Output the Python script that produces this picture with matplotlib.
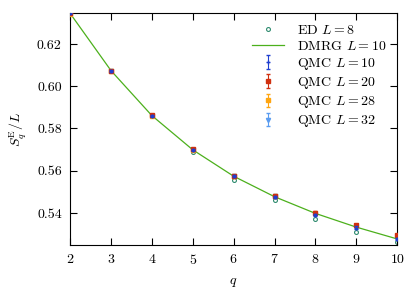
import numpy as np
import matplotlib
matplotlib.use("Agg")
import matplotlib.pyplot as plt

plt.rcParams['font.family'] = 'serif'
plt.rcParams['font.serif'] = ['cmr10']
plt.rcParams['mathtext.fontset'] = 'cm'
plt.rcParams['axes.formatter.use_mathtext'] = True
plt.rcParams['font.size'] = 10

q = np.array([2, 3, 4, 5, 6, 7, 8, 9, 10])

# ED L=8
ed = [0.6340, 0.6070, 0.5858, 0.5689, 0.5557, 0.5460, 0.5373, 0.5311, 0.5262]
# DMRG L=10
dmrg = [0.6345, 0.6074, 0.5861, 0.5699, 0.5574, 0.5477, 0.5398, 0.5333, 0.5277]
# QMC
qmc10 = [0.6345, 0.6074, 0.5861, 0.5699, 0.5574, 0.5477, 0.5392, 0.5331, 0.5275]
qmc20 = [0.6345, 0.6074, 0.5862, 0.5701, 0.5577, 0.5482, 0.5402, 0.5344, 0.5294]
q_big = np.array([2, 3, 4, 5, 6, 7])
qmc28 = [0.6344, 0.6073, 0.5860, 0.5700, 0.5575, 0.5480]
qmc32 = [0.6343, 0.6072, 0.5859, 0.5698, 0.5573, 0.5478]
err = 0.0005

fig, ax = plt.subplots(figsize=(4.15, 2.95), dpi=100)
fig.subplots_adjust(left=0.169, right=0.957, top=0.956, bottom=0.17)

ax.plot(q, ed, 'o', ms=2.8, mfc='none', mec='#2e8b6e', mew=0.8, label=r'ED $L=8$', zorder=2)
ax.plot(q, dmrg, '-', color='#4cb01c', lw=0.9, label=r'DMRG $L=10$', zorder=3)
ax.errorbar(q, qmc10, yerr=err, fmt='+', ms=3.5, color='#1f3fd0', capsize=1.5, elinewidth=0.8,
            label=r'QMC $L=10$', zorder=6)
ax.errorbar(q, qmc20, yerr=err, fmt='s', ms=2.5, color='#d0300f', capsize=1.5, elinewidth=0.8,
            label=r'QMC $L=20$', zorder=5)
ax.errorbar(q_big, qmc28, yerr=err, fmt='s', ms=3, color='#ffa510', capsize=1.5, elinewidth=0.8,
            label=r'QMC $L=28$', zorder=4)
ax.errorbar(q_big, qmc32, yerr=err, fmt='v', ms=3, color='#5a9cf0', capsize=1.5, elinewidth=0.8,
            label=r'QMC $L=32$', zorder=3.5)

ax.set_xlim(2, 10)
ax.set_ylim(0.5249, 0.6347)
ax.set_xticks(range(2, 11))
ax.set_yticks([0.54, 0.56, 0.58, 0.60, 0.62])
ax.set_yticklabels(['0.54', '0.56', '0.58', '0.60', '0.62'])
ax.tick_params(direction='in', top=True, right=True, length=5, width=0.8, pad=6, labelsize=10)
for s in ax.spines.values():
    s.set_linewidth(0.8)

ax.set_xlabel(r'$q$', labelpad=6)
ax.set_ylabel(r'$S_q^{\mathrm{E}}/L$', labelpad=6)

ax.legend(loc='upper right', frameon=False, fontsize=10, handlelength=2.3,
          labelspacing=0.22, borderaxespad=0.4, handletextpad=0.9)

fig.savefig('out.png', dpi=100)
